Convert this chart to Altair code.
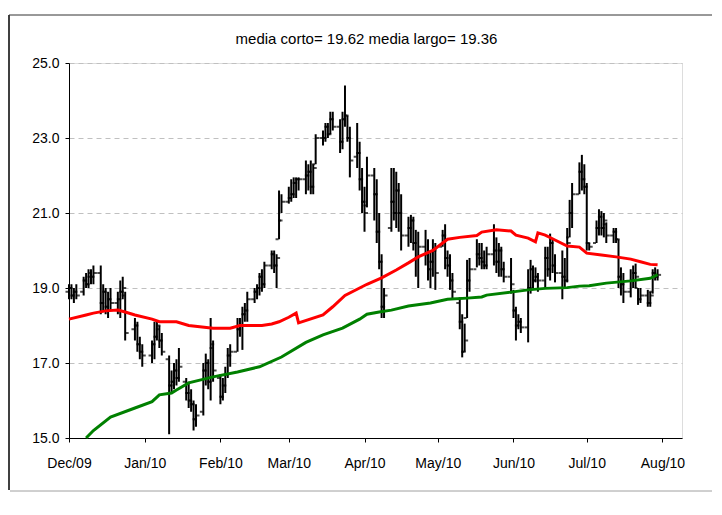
import altair as alt
import pandas as pd

TITLE = "media corto= 19.62 media largo= 19.36"

# Trading days Dec 1 2009 .. Jul 30 2010 (weekdays, without Dec 25 and Jan 1)
HOLIDAYS = ["2009-12-25", "2010-01-01"]

OPEN = [
    18.9, 19.0, 18.8, 18.9,
    18.9, 19.2, 19.1, 19.3, 19.3,
    19.4, 18.6, 18.9, 18.5, 18.7,
    18.6, 18.7, 18.9, 18.8,
    17.9, 18.0, 17.5, 17.3,
    17.2, 17.5, 17.7, 17.9, 17.6,
    17.1, 16.4, 16.5, 16.8, 16.6,
    16.5, 16.2, 16.0, 15.9, 15.5,
    15.7, 16.8, 17.0, 16.5, 17.4,
    16.6, 16.1, 16.4, 16.7, 17.2,
    17.3, 17.9, 18.0, 18.3, 18.4,
    18.7, 18.9, 19.0, 19.3, 19.1,
    19.6, 19.9, 19.6, 20.3, 20.8,
    21.3, 21.4, 21.5, 21.8, 21.9,
    21.9, 22.0, 22.1, 21.7, 22.3,
    23.0, 23.0, 23.3, 23.1, 23.5,
    23.3, 22.9, 23.5, 23.6, 23.0,
    22.5, 22.6, 21.9,
    21.3, 21.2,
    22.0, 21.5, 20.5, 19.7, 18.5,
    20.6, 21.3, 21.0, 21.6, 21.0,
    20.4, 20.6, 20.8, 20.2, 19.8,
    20.1, 19.9, 19.5, 19.7, 20.0,
    20.1, 20.4, 19.8, 19.6, 19.2,
    18.6, 18.1, 17.3, 18.2, 19.2,
    19.5, 19.9, 19.8, 19.7, 19.6,
    19.9, 20.0, 19.7, 20.0, 19.5,
    19.3,
    18.9, 18.4, 18.0, 18.1,
    17.95, 19.0, 19.5, 19.2, 19.3,
    19.2, 19.8, 19.5, 20.2, 19.6,
    19.4, 19.3, 19.2, 20.35, 21.0,
    21.5, 22.1, 21.9,
    21.7, 20.2,
    20.2, 20.6, 20.9, 20.6, 20.7,
    20.4, 20.5, 20.3, 19.3, 19.1,
    18.9, 19.2, 19.4, 19.0, 18.7,
    18.8, 18.6, 18.9, 19.4, 19.3,
]
HIGH = [
    19.1, 19.1, 19.0, 19.1,
    19.3, 19.4, 19.5, 19.5, 19.6,
    19.6, 19.1, 19.0, 18.9, 19.0,
    18.9, 19.2, 19.3, 18.9,
    18.2, 18.1, 17.7, 17.5,
    17.6, 18.1, 18.1, 18.0, 17.8,
    17.2, 16.8, 17.0, 17.1, 17.4,
    16.6, 16.5, 16.3, 16.0, 15.9,
    17.0, 17.25, 17.1, 18.2, 17.6,
    16.7, 16.6, 16.9, 17.4, 17.5,
    18.2, 18.2, 18.5, 18.6, 18.9,
    19.0, 19.1, 19.4, 19.5, 19.7,
    20.0, 20.0, 19.9, 21.6, 21.5,
    21.7, 21.9, 21.95, 21.95, 21.95,
    22.4, 22.3, 22.4, 22.3, 23.1,
    23.2, 23.4, 23.4, 23.7, 23.7,
    23.5, 23.7, 24.4, 23.6, 23.3,
    23.4, 22.9, 22.2,
    21.7, 22.5,
    22.2, 21.9, 21.0, 19.9, 19.0,
    22.2, 22.2, 22.1, 21.8, 21.5,
    20.9, 20.95, 20.9, 20.55, 20.5,
    20.55, 20.3, 20.0, 20.3, 20.2,
    20.55, 20.7, 20.0, 19.9, 19.4,
    18.75, 18.3, 18.05, 19.75, 19.8,
    20.3, 20.2, 20.2, 20.0, 20.1,
    20.7, 20.35, 20.2, 20.1, 19.7,
    19.8,
    18.95, 18.5, 18.3, 18.2,
    19.5, 19.75, 19.6, 19.55, 19.4,
    20.1, 20.1, 20.45, 20.3, 19.9,
    20.0, 19.8, 20.6, 21.35, 21.8,
    22.35, 22.55, 22.3,
    21.8, 20.2,
    20.8, 21.1, 21.05, 21.0, 20.75,
    20.6, 20.6, 20.3, 19.55, 19.4,
    19.5, 19.6, 19.65, 19.0, 19.0,
    18.95, 18.9, 19.5, 19.55, 19.5,
]
LOW = [
    18.7, 18.7, 18.6, 18.7,
    18.8, 19.0, 19.0, 19.1, 19.1,
    18.3, 18.4, 18.3, 18.2, 18.4,
    18.3, 18.2, 18.7, 17.6,
    17.6, 17.3, 17.1, 16.9,
    17.0, 17.1, 17.6, 17.4, 17.2,
    15.1, 16.2, 16.3, 16.4, 16.5,
    16.0, 15.8, 15.7, 15.2, 15.3,
    15.6, 16.4, 16.3, 16.0, 16.5,
    15.9, 16.0, 16.2, 16.6, 16.9,
    17.3, 17.7, 17.35, 18.1, 18.1,
    18.6, 18.7, 18.8, 18.9, 19.0,
    19.5, 19.4, 19.0, 20.3, 21.0,
    21.25, 21.3, 21.4, 21.4, 21.6,
    21.5, 21.6, 21.5, 21.5, 22.3,
    22.8, 22.9, 23.0, 23.1, 23.2,
    22.6, 22.7, 23.3, 22.9, 21.95,
    22.2, 21.6, 21.0,
    20.5, 21.15,
    20.8, 20.2, 19.5, 18.2, 18.2,
    20.5, 20.8, 20.6, 20.5, 20.0,
    20.1, 20.2, 20.0, 19.3, 19.0,
    19.6, 19.2, 19.0, 19.3, 18.95,
    20.1, 19.5, 19.3, 18.95, 18.7,
    17.9, 17.15, 17.3, 18.2, 18.9,
    19.55, 19.6, 19.5, 19.5, 19.5,
    19.6, 19.4, 19.3, 19.3, 19.15,
    18.85,
    18.2, 17.6, 17.9, 17.8,
    17.55, 18.85, 19.0, 19.15, 18.9,
    19.0, 19.3, 19.2, 19.4, 19.15,
    18.7, 19.0, 19.15, 20.35, 20.6,
    21.5, 21.6, 21.5,
    20.0, 20.0,
    20.2, 20.4, 20.4, 20.35, 20.2,
    20.2, 20.2, 19.0, 18.8, 18.6,
    18.75, 19.0, 19.0, 18.55, 18.6,
    18.5, 18.5, 18.85, 19.2, 19.2,
]
CLOSE = [
    19.0, 18.8, 18.9, 18.8,
    19.2, 19.1, 19.4, 19.3, 19.4,
    18.6, 18.9, 18.5, 18.7, 18.6,
    18.7, 18.9, 19.0, 17.8,
    18.0, 17.5, 17.3, 17.2,
    17.5, 17.7, 18.0, 17.6, 17.3,
    16.4, 16.5, 16.8, 16.6, 16.9,
    16.2, 16.0, 15.9, 15.5, 15.6,
    16.8, 17.0, 16.5, 17.5, 16.8,
    16.1, 16.4, 16.7, 17.2, 17.3,
    17.9, 18.0, 18.3, 18.4, 18.7,
    18.9, 19.0, 19.3, 19.1, 19.6,
    19.9, 19.6, 19.8, 20.8, 21.3,
    21.4, 21.5, 21.8, 21.9, 21.9,
    22.0, 22.1, 21.7, 22.2, 23.0,
    23.0, 23.3, 23.1, 23.5, 23.3,
    22.9, 23.5, 23.6, 23.0, 22.4,
    22.6, 21.9, 21.3,
    21.0, 22.0,
    21.5, 20.5, 19.7, 18.5, 18.8,
    21.3, 21.0, 21.6, 21.0, 20.4,
    20.6, 20.8, 20.2, 19.8, 20.1,
    19.9, 19.5, 19.7, 20.0, 19.4,
    20.4, 19.8, 19.6, 19.2, 18.9,
    18.1, 17.3, 17.6, 19.2, 19.5,
    19.9, 19.8, 19.7, 19.6, 19.9,
    20.0, 19.7, 20.0, 19.5, 19.3,
    19.1,
    18.4, 18.0, 18.1, 17.95,
    19.0, 19.5, 19.2, 19.3, 19.2,
    19.8, 19.5, 20.2, 19.6, 19.4,
    19.3, 19.2, 20.2, 21.0, 21.5,
    22.1, 21.9, 21.7,
    20.2, 20.1,
    20.6, 20.9, 20.6, 20.8, 20.4,
    20.5, 20.3, 19.3, 19.1, 18.9,
    19.2, 19.4, 19.3, 18.7, 18.8,
    18.6, 18.8, 19.4, 19.3, 19.35,
]

# Short moving average (red)
SHORT_DATES = ["2009-12-01", "2009-12-08", "2009-12-11", "2009-12-16", "2009-12-21",
               "2009-12-24", "2009-12-28", "2010-01-04", "2010-01-07", "2010-01-14",
               "2010-01-19", "2010-01-29", "2010-02-05", "2010-02-09", "2010-02-18",
               "2010-02-22", "2010-02-25", "2010-03-01", "2010-03-04", "2010-03-05",
               "2010-03-15", "2010-03-19", "2010-03-24", "2010-03-30", "2010-04-02",
               "2010-04-08", "2010-04-14", "2010-04-19", "2010-04-23", "2010-04-29",
               "2010-05-05", "2010-05-10", "2010-05-17", "2010-05-19", "2010-05-25",
               "2010-05-31", "2010-06-02", "2010-06-07", "2010-06-10", "2010-06-11",
               "2010-06-14", "2010-06-18", "2010-06-23", "2010-06-28", "2010-07-01",
               "2010-07-07", "2010-07-13", "2010-07-19", "2010-07-23", "2010-07-27",
               "2010-07-30"]
SHORT_MA = [18.17, 18.28, 18.33, 18.39, 18.41,
            18.36, 18.28, 18.17, 18.10, 18.10,
            18.00, 17.93, 17.93, 18.00, 18.00,
            18.04, 18.10, 18.22, 18.33, 18.07,
            18.28, 18.50, 18.80, 19.00, 19.10,
            19.27, 19.48, 19.67, 19.83, 20.00,
            20.30, 20.35, 20.40, 20.49, 20.55,
            20.52, 20.41, 20.33, 20.23, 20.47,
            20.41, 20.28, 20.12, 20.09, 19.93,
            19.88, 19.83, 19.77, 19.70, 19.63,
            19.62]

# Long moving average (green)
LONG_DATES = ["2009-12-08", "2009-12-11", "2009-12-18", "2009-12-28", "2010-01-04",
              "2010-01-07", "2010-01-12", "2010-01-14", "2010-01-19", "2010-01-29",
              "2010-02-08", "2010-02-17", "2010-02-26", "2010-03-08", "2010-03-15",
              "2010-03-23", "2010-03-30", "2010-04-02", "2010-04-07", "2010-04-12",
              "2010-04-19", "2010-04-28", "2010-05-05", "2010-05-13", "2010-05-19",
              "2010-05-21", "2010-05-31", "2010-06-07", "2010-06-14", "2010-06-23",
              "2010-06-28", "2010-07-02", "2010-07-09", "2010-07-19", "2010-07-27",
              "2010-07-29", "2010-07-30"]
LONG_MA = [15.00, 15.20, 15.56, 15.80, 15.97,
           16.15, 16.20, 16.28, 16.47, 16.63,
           16.76, 16.90, 17.16, 17.55, 17.75,
           17.93, 18.17, 18.30, 18.36, 18.41,
           18.52, 18.60, 18.70, 18.73, 18.76,
           18.81, 18.89, 18.95, 18.99, 19.01,
           19.05, 19.06, 19.13, 19.19, 19.26,
           19.32, 19.36]

Y_TICKS = [15, 17, 19, 21, 23, 25]
X_TICKS = [(2009, 12)] + [(2010, m) for m in range(1, 9)]

FONT = "Liberation Sans"

days = [d for d in pd.bdate_range("2009-12-01", "2010-07-30") if d.strftime("%Y-%m-%d") not in HOLIDAYS]
n = min(len(days), len(OPEN), len(HIGH), len(LOW), len(CLOSE))
ohlc = pd.DataFrame({
    "date": [d.strftime("%Y-%m-%dT00:00:00") for d in days[:n]],
    "open": OPEN[:n], "high": HIGH[:n], "low": LOW[:n], "close": CLOSE[:n],
})
short_df = pd.DataFrame({"date": [d + "T00:00:00" for d in SHORT_DATES], "v": SHORT_MA})
long_df = pd.DataFrame({"date": [d + "T00:00:00" for d in LONG_DATES], "v": LONG_MA})

x_scale = alt.Scale(domain=[alt.DateTime(year=2009, month=12, date=1),
                            alt.DateTime(year=2010, month=8, date=9)], nice=False)
y_scale = alt.Scale(domain=[15, 25], nice=False, zero=False)

x_axis = alt.Axis(values=[alt.DateTime(year=y, month=m, date=1) for y, m in X_TICKS],
                  format="%b/%y", formatType="time", title=None, grid=False,
                  domainColor="black", tickColor="black", tickSize=4,
                  labelPadding=14, labelFont=FONT, labelFontSize=14, labelColor="black",
                  labelFlush=False, labelOverlap=False)
y_axis = alt.Axis(values=Y_TICKS, format=".1f", title=None, grid=True,
                  gridColor="#c0c0c0", gridDash=[5, 4], gridWidth=1,
                  domainColor="black", tickColor="black", tickSize=4,
                  labelPadding=6, labelFont=FONT, labelFontSize=14, labelColor="black")

x_enc = alt.X("date:T", scale=x_scale, axis=x_axis)

base = alt.Chart(ohlc)
hl = base.mark_rule(color="black", strokeWidth=2).encode(
    x=x_enc, y=alt.Y("low:Q", scale=y_scale, axis=y_axis), y2="high:Q")
op = base.mark_tick(color="black", orient="horizontal", size=3, thickness=2, xOffset=-2).encode(
    x="date:T", y="open:Q")
cl = base.mark_tick(color="black", orient="horizontal", size=3, thickness=2, xOffset=2).encode(
    x="date:T", y="close:Q")

red = alt.Chart(short_df).mark_line(color="#ff0000", strokeWidth=3).encode(
    x="date:T", y="v:Q")
green = alt.Chart(long_df).mark_line(color="#008000", strokeWidth=3).encode(
    x="date:T", y="v:Q")

# outer frame of the chart object
frame_df = pd.DataFrame({"a": [0]})
left_frame = alt.Chart(frame_df).mark_rule(color="black", strokeWidth=1.5).encode(
    x=alt.value(-60), y=alt.value(-48), y2=alt.value(427))
top_frame = alt.Chart(frame_df).mark_rule(color="#333333", strokeWidth=1).encode(
    x=alt.value(-60), x2=alt.value(660), y=alt.value(-48))
bottom_frame = alt.Chart(frame_df).mark_rule(color="#a0a0a0", strokeWidth=1).encode(
    x=alt.value(-59), x2=alt.value(660), y=alt.value(428))

chart = alt.layer(left_frame, top_frame, bottom_frame, hl, op, cl, red, green).properties(
    width=613, height=375,
    title=alt.TitleParams(TITLE, font=FONT, fontSize=15, fontWeight="normal",
                          color="black", anchor="middle", offset=14, dx=-9, dy=47),
    padding={"left": 61, "top": 55, "right": 30, "bottom": 60},
    autosize="none",
).configure_view(stroke="#808080", strokeWidth=1).configure(background="white")

chart.save("out.html", embed_options={"renderer": "svg", "actions": False})
